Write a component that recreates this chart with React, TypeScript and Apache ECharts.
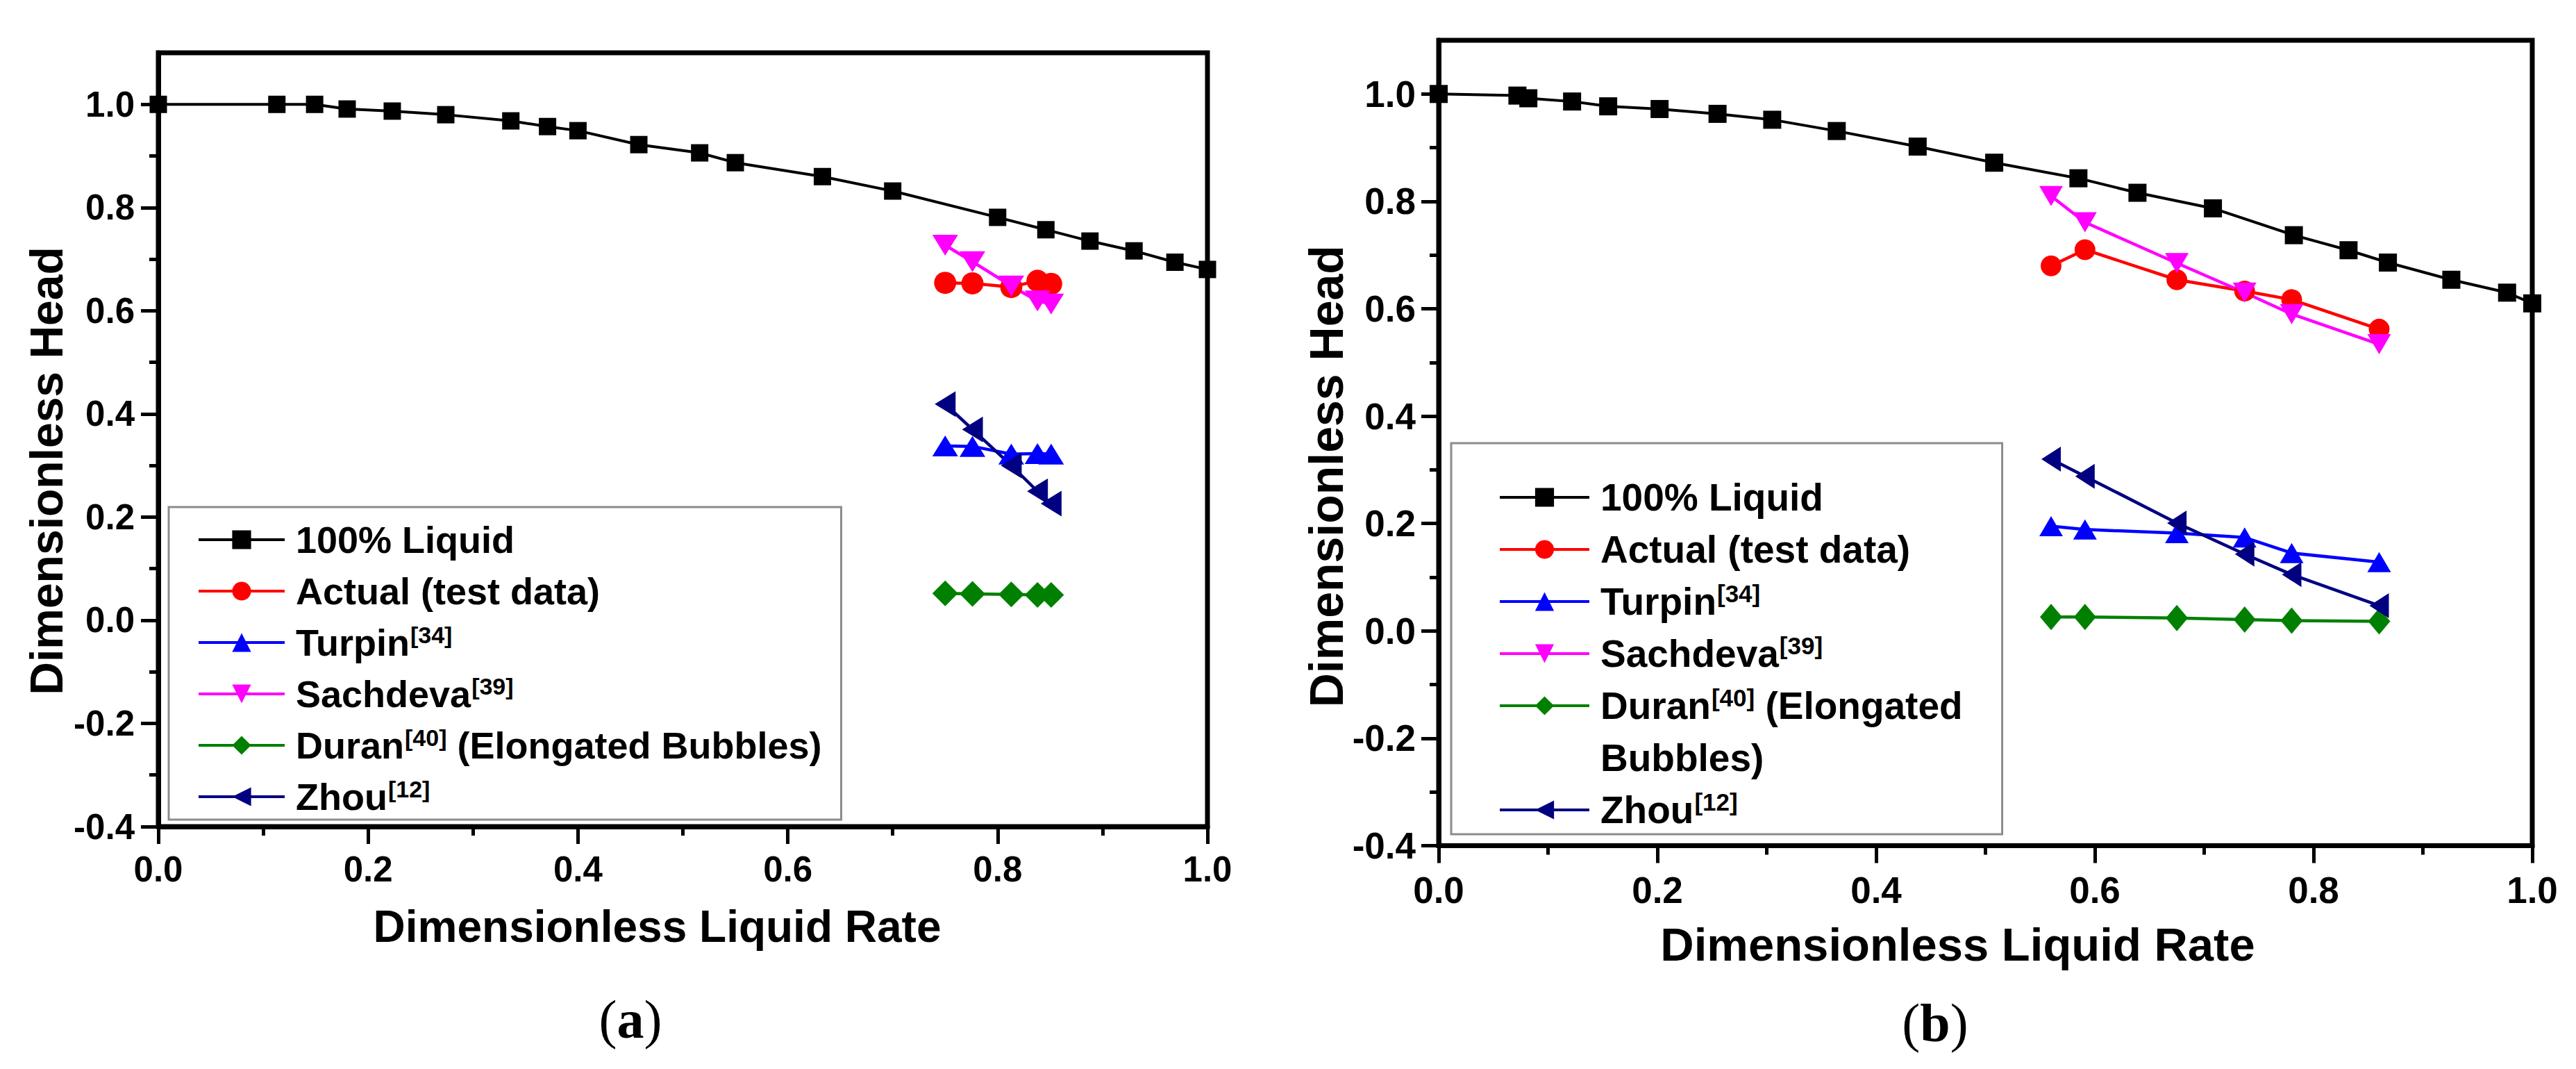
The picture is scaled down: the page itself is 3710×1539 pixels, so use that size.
import React, { useEffect, useRef } from 'react';
import * as echarts from 'echarts';

const FONT = '"Liberation Sans", Arial, Helvetica, sans-serif';
const SERIF = '"Liberation Serif", "Times New Roman", serif';

// ---- axis ticks ----
const xTicks = [0, 0.2, 0.4, 0.6, 0.8, 1.0];
const yMajorTicks = [-0.4, -0.2, 0, 0.2, 0.4, 0.6, 0.8, 1.0];
const yMinorTicks = [-0.3, -0.1, 0.1, 0.3, 0.5, 0.7, 0.9];

// ---- series names ----
const seriesNames = [
  '100% Liquid',
  'Actual (test data)',
  'Turpin[34]',
  'Sachdeva[39]',
  'Duran[40] (Elongated Bubbles)',
  'Zhou[12]',
];

// ---- panel (a) data ----
const liquidAX = [0, 0.113, 0.149, 0.180, 0.223, 0.274, 0.336, 0.371, 0.400, 0.458, 0.516, 0.550, 0.633, 0.700, 0.800, 0.846, 0.888, 0.930, 0.969, 1.0];
const liquidAY = [1.0, 1.0, 1.0, 0.991, 0.987, 0.980, 0.968, 0.957, 0.949, 0.922, 0.906, 0.887, 0.860, 0.832, 0.781, 0.757, 0.735, 0.716, 0.694, 0.680];
const modelAX = [0.750, 0.776, 0.813, 0.838, 0.851];
const actualA = [0.654, 0.653, 0.646, 0.658, 0.652];
const turpinA = [0.338, 0.337, 0.322, 0.323, 0.322];
const sachdevaA = [0.727, 0.695, 0.648, 0.619, 0.613];
const duranA = [0.052, 0.051, 0.050, 0.049, 0.049];
const zhouA = [0.419, 0.370, 0.300, 0.250, 0.226];

// ---- panel (b) data ----
const liquidBX = [0, 0.072, 0.082, 0.122, 0.155, 0.202, 0.255, 0.305, 0.364, 0.438, 0.508, 0.585, 0.639, 0.708, 0.782, 0.832, 0.868, 0.926, 0.977, 1.0];
const liquidBY = [1.0, 0.997, 0.992, 0.986, 0.977, 0.972, 0.963, 0.952, 0.931, 0.902, 0.872, 0.843, 0.816, 0.787, 0.737, 0.709, 0.686, 0.654, 0.630, 0.610];
const modelBX = [0.560, 0.591, 0.675, 0.737, 0.780, 0.860];
const actualB = [0.680, 0.710, 0.654, 0.633, 0.617, 0.562];
const turpinB = [0.195, 0.189, 0.182, 0.174, 0.145, 0.128];
const sachdevaB = [0.810, 0.761, 0.685, 0.630, 0.590, 0.534];
const duranB = [0.026, 0.026, 0.024, 0.021, 0.019, 0.018];
const zhouB = [0.320, 0.288, 0.201, 0.143, 0.105, 0.047];

const zip = (xs: number[], ys: number[]) => xs.map((x, i) => [x, ys[i]]);

type Sty = { symbol: string; color: string; width: number; rotate: number; sizeA: any; sizeB: any };
const styles: Sty[] = [
  { symbol: 'rect', color: '#000000', width: 4, rotate: 0, sizeA: 25, sizeB: 26 },
  { symbol: 'circle', color: '#ff0000', width: 4.5, rotate: 0, sizeA: 32, sizeB: 30 },
  { symbol: 'triangle', color: '#0000ff', width: 4.5, rotate: 0, sizeA: [37, 30], sizeB: [34, 29] },
  { symbol: 'triangle', color: '#ff00ff', width: 4.5, rotate: 180, sizeA: [37, 30], sizeB: [34, 29] },
  { symbol: 'diamond', color: '#008000', width: 4.5, rotate: 0, sizeA: [37, 37], sizeB: [32, 38] },
  { symbol: 'triangle', color: '#000080', width: 4.5, rotate: 90, sizeA: [37, 30], sizeB: [36, 28] },
];

function makeSeries(idx: number, data: number[][], panel: 0 | 1) {
  const s = styles[idx];
  return {
    type: 'line',
    name: seriesNames[idx],
    xAxisIndex: panel,
    yAxisIndex: panel * 2,
    data,
    symbol: s.symbol,
    symbolSize: panel === 0 ? s.sizeA : s.sizeB,
    symbolRotate: s.rotate,
    showSymbol: true,
    color: s.color,
    itemStyle: { color: s.color },
    lineStyle: { color: s.color, width: s.width },
    emphasis: { disabled: true },
    z: 3,
  };
}

function splitName(name: string) {
  const m = name.match(/^([^\[]+)(\[\d+\])?(.*)$/);
  if (!m) return { base: name, sup: '', rest: '' };
  return { base: m[1], sup: m[2] || '', rest: m[3] || '' };
}

function legendFmtA(name: string) {
  const p = splitName(name);
  let s = `{f|${p.base}}`;
  if (p.sup) s += `{s|${p.sup}}`;
  if (p.rest) s += `{t|${p.rest}}`;
  return s;
}

function legendFmtB(name: string) {
  if (name.startsWith('Duran')) return '{f|Duran}{s|[40]}{t| (Elongated}';
  return legendFmtA(name);
}

function rich(fs: number, lh: number, supFs: number) {
  const base = { fontFamily: FONT, fontWeight: 'bold', color: '#000', fontSize: fs, lineHeight: lh };
  return {
    f: { ...base, padding: [0, 0, 0, 11] },
    t: { ...base },
    s: { fontFamily: FONT, fontWeight: 'bold', color: '#000', fontSize: supFs, verticalAlign: 'top', padding: [2, 0, 0, 1] },
  };
}

function xAxisOpt(gridIndex: number, fs: number, labelMargin: number, name: string, nameGap: number, nameFs: number, namePadRight: number) {
  return {
    type: 'value',
    gridIndex,
    min: 0,
    max: 1,
    interval: 0.2,
    name,
    nameLocation: 'middle',
    nameGap,
    nameTextStyle: { fontFamily: FONT, fontWeight: 'bold', fontSize: nameFs, color: '#000', padding: [0, namePadRight, 0, 0] },
    axisLine: { show: true, onZero: false, lineStyle: { color: '#000', width: 7 } },
    axisTick: { show: true, inside: false, length: 25, lineStyle: { color: '#000', width: 5 } },
    minorTick: { show: true, splitNumber: 2, length: 13, lineStyle: { color: '#000', width: 5 } },
    axisLabel: {
      show: true,
      margin: labelMargin,
      fontFamily: FONT,
      fontWeight: 'bold',
      fontSize: fs,
      color: '#000',
      formatter: (v: number) => v.toFixed(1),
      customValues: xTicks,
    },
    splitLine: { show: false },
    minorSplitLine: { show: false },
  };
}

function yAxisOpts(gridIndex: number, fs: number, labelMargin: number, name: string, nameGap: number, nameFs: number, namePadRight: number) {
  return [
    {
      type: 'value',
      gridIndex,
      position: 'left',
      min: -0.4,
      max: 1.1,
      interval: 0.1,
      name,
      nameLocation: 'middle',
      nameGap,
      nameTextStyle: { fontFamily: FONT, fontWeight: 'bold', fontSize: nameFs, color: '#000', padding: [0, namePadRight, 0, 0] },
      axisLine: { show: true, onZero: false, lineStyle: { color: '#000', width: 7 } },
      axisTick: { show: true, inside: false, length: 25, lineStyle: { color: '#000', width: 5 }, customValues: yMajorTicks },
      axisLabel: {
        show: true,
        margin: labelMargin,
        fontFamily: FONT,
        fontWeight: 'bold',
        fontSize: fs,
        color: '#000',
        formatter: (v: number) => v.toFixed(1),
        customValues: yMajorTicks,
      },
      splitLine: { show: false },
    },
    {
      type: 'value',
      gridIndex,
      position: 'left',
      offset: 0,
      min: -0.4,
      max: 1.1,
      interval: 0.1,
      axisLine: { show: false, onZero: false },
      axisTick: { show: true, inside: false, length: 13, lineStyle: { color: '#000', width: 5 }, customValues: yMinorTicks },
      axisLabel: { show: false },
      splitLine: { show: false },
    },
  ];
}

function buildOption() {
  const seriesA = [
    makeSeries(0, zip(liquidAX, liquidAY), 0),
    makeSeries(1, zip(modelAX, actualA), 0),
    makeSeries(2, zip(modelAX, turpinA), 0),
    makeSeries(3, zip(modelAX, sachdevaA), 0),
    makeSeries(4, zip(modelAX, duranA), 0),
    makeSeries(5, zip(modelAX, zhouA), 0),
  ];
  const seriesB = [
    makeSeries(0, zip(liquidBX, liquidBY), 1),
    makeSeries(1, zip(modelBX, actualB), 1),
    makeSeries(2, zip(modelBX, turpinB), 1),
    makeSeries(3, zip(modelBX, sachdevaB), 1),
    makeSeries(4, zip(modelBX, duranB), 1),
    makeSeries(5, zip(modelBX, zhouB), 1),
  ];
  // legend helper row for the wrapped second line of the Duran entry in (b)
  const wrapHelper = {
    type: 'line',
    name: 'Bubbles)',
    xAxisIndex: 1,
    yAxisIndex: 2,
    data: [] as number[][],
    symbol: 'none',
    color: 'rgba(0,0,0,0)',
    lineStyle: { color: 'rgba(0,0,0,0)', width: 0 },
    itemStyle: { color: 'rgba(0,0,0,0)' },
  };

  return {
    animation: false,
    backgroundColor: '#ffffff',
    grid: [
      { left: 228, top: 76, width: 1511, height: 1114, show: true, borderColor: '#000', borderWidth: 7, backgroundColor: 'transparent', containLabel: false },
      { left: 2072, top: 58, width: 1575, height: 1159.5, show: true, borderColor: '#000', borderWidth: 7, backgroundColor: 'transparent', containLabel: false },
    ],
    xAxis: [
      xAxisOpt(0, 51, 36, 'Dimensionless Liquid Rate', 112, 64, 74),
      xAxisOpt(1, 53, 37, 'Dimensionless Liquid Rate', 108, 67, 80),
    ],
    yAxis: [
      ...yAxisOpts(0, 51, 34, 'Dimensionless Head', 128, 66, 90),
      ...yAxisOpts(1, 53, 33, 'Dimensionless Head', 123, 68, 96),
    ],
    legend: [
      {
        orient: 'vertical',
        left: 243,
        top: 730,
        padding: [17, 28, 3, 41],
        itemWidth: 124,
        itemHeight: 34,
        itemGap: 14,
        borderColor: '#8c8c8c',
        borderWidth: 3,
        backgroundColor: '#ffffff',
        selectedMode: false,
        lineStyle: { width: 4 },
        data: seriesNames,
        formatter: legendFmtA,
        textStyle: { fontFamily: FONT, fontWeight: 'bold', fontSize: 54, color: '#000', lineHeight: 60, rich: rich(54, 60, 34) },
      },
      {
        orient: 'vertical',
        left: 2090,
        top: 638,
        padding: [47, 57, 4, 68],
        itemWidth: 129,
        itemHeight: 34,
        itemGap: 13,
        borderColor: '#8c8c8c',
        borderWidth: 3,
        backgroundColor: '#ffffff',
        selectedMode: false,
        lineStyle: { width: 4 },
        data: [
          seriesNames[0],
          seriesNames[1],
          seriesNames[2],
          seriesNames[3],
          seriesNames[4],
          { name: 'Bubbles)', itemStyle: { opacity: 0 }, lineStyle: { opacity: 0 } },
          seriesNames[5],
        ],
        formatter: legendFmtB,
        textStyle: { fontFamily: FONT, fontWeight: 'bold', fontSize: 55, color: '#000', lineHeight: 62, rich: rich(55, 62, 35) },
      },
    ],
    graphic: [
      {
        type: 'text',
        x: 908,
        y: 1467,
        style: {
          text: '{p|(}{b|a}{p|)}',
          align: 'center',
          verticalAlign: 'middle',
          rich: {
            p: { fontFamily: SERIF, fontSize: 78, color: '#000' },
            b: { fontFamily: SERIF, fontSize: 78, fontWeight: 'bold', color: '#000' },
          },
        },
      },
      {
        type: 'text',
        x: 2787,
        y: 1472,
        style: {
          text: '{p|(}{b|b}{p|)}',
          align: 'center',
          verticalAlign: 'middle',
          rich: {
            p: { fontFamily: SERIF, fontSize: 78, color: '#000' },
            b: { fontFamily: SERIF, fontSize: 78, fontWeight: 'bold', color: '#000' },
          },
        },
      },
    ],
    series: [...seriesA, ...seriesB, wrapHelper],
  };
}

export default function App() {
  const ref = useRef<HTMLDivElement>(null);
  useEffect(() => {
    if (!ref.current) return;
    const chart = echarts.init(ref.current, undefined, { renderer: 'svg' });
    chart.setOption(buildOption() as any);
    return () => chart.dispose();
  }, []);
  return (
    <div
      ref={ref}
      style={{ position: 'absolute', left: 0, top: 0, width: '3710px', height: '1539px', background: '#ffffff' }}
    />
  );
}
